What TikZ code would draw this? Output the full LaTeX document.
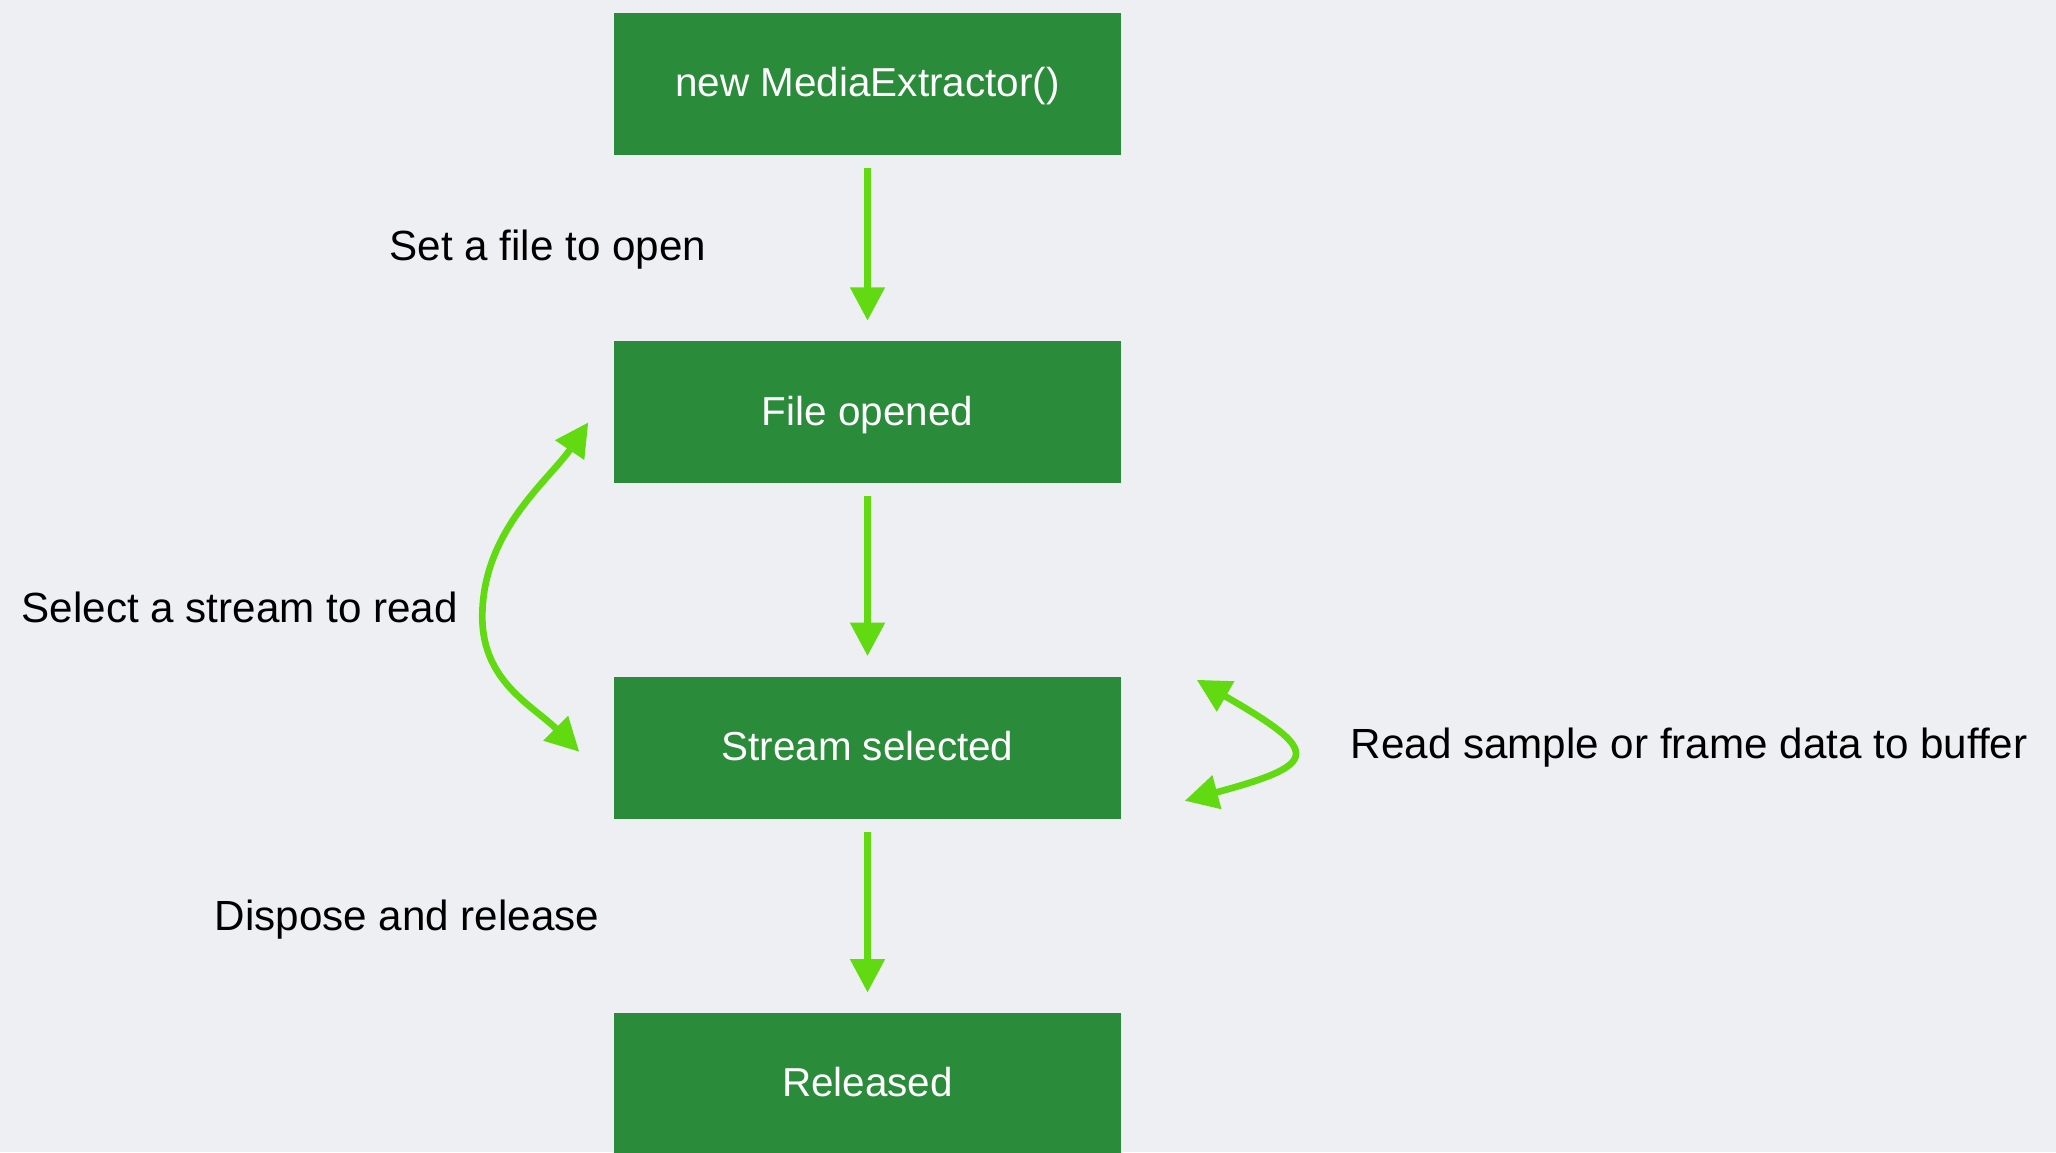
\documentclass[tikz,border=0pt]{standalone}
\usepackage{fontspec}
\setmainfont{Liberation Sans}
\usetikzlibrary{arrows.meta,positioning}
\definecolor{boxgreen}{RGB}{42,139,58}
\definecolor{arrowgreen}{RGB}{98,218,18}
\definecolor{paper}{RGB}{238,239,242}

\begin{document}
\begin{tikzpicture}[>={Triangle[width=9.5pt,length=9.5pt]},
    stage/.style={fill=boxgreen,text=white,minimum width=5.07cm,minimum height=1.42cm,inner sep=0pt,text height=0.92em,text depth=0.2em,font=\fontsize{11.5}{14}\selectfont},
    flow/.style={->,draw=arrowgreen,line width=1.9pt,shorten <=0.12cm,shorten >=0.2cm},
    backarrow/.style={<->,draw=arrowgreen,line width=1.9pt},
    note/.style={font=\fontsize{12}{14}\selectfont,inner sep=0pt}]
    \useasboundingbox (0,0) rectangle (20.56,-11.52);
    \fill[paper] (0,0) rectangle (20.56,-11.52);

    % states
    \node[stage] (create) at (8.675,-0.84) {new MediaExtractor()};
    \node[stage,below=1.85cm of create] (opened) {File opened};
    \node[stage,below=1.92cm of opened] (selected) {Stream selected};
    \node[stage,below=1.93cm of selected] (released) {Released};

    \draw[flow] (create) -- (opened);
    \draw[flow] (opened) -- (selected);
    \draw[flow] (selected) -- (released);

    % loops back and forth
    \coordinate (bend) at ([xshift=-1.31cm,yshift=1.31cm]selected.west);
    \draw[backarrow] ([xshift=-0.34cm,yshift=-0.04cm]selected.west) to[out=135,in=-90] (bend) to[out=90,in=-124,in looseness=0.8] ([xshift=-0.25cm,yshift=-0.1cm]opened.west);
    \draw[backarrow] ([xshift=0.75cm,yshift=0.68cm]selected.east) to[out=-30,in=15,looseness=3] ([xshift=0.63cm,yshift=-0.53cm]selected.east);

    % labels
    \node[note] (setfile) at (5.48,-2.5) {Set a file to open};
    \node[note,anchor=west] (pickstream) at (0.21,-6.07) {Select a stream to read};
    \node[note] (dispose) at (4.07,-9.2) {Dispose and release};
    \node[note,anchor=west] (readdata) at (13.5,-7.48) {Read sample or frame data to buffer};
\end{tikzpicture}
\end{document}
